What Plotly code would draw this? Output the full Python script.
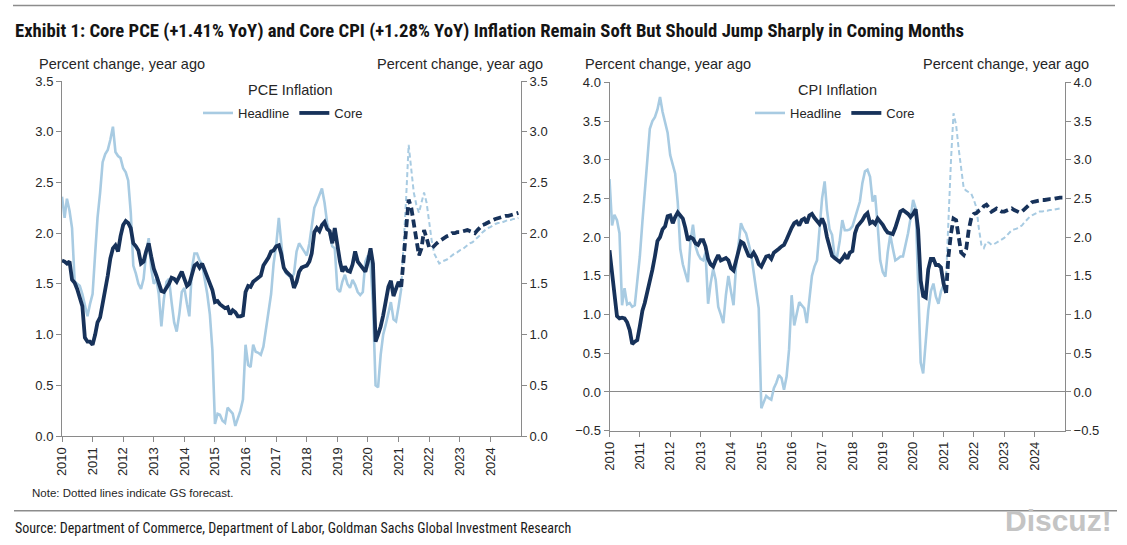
import plotly.graph_objects as go
import pandas as pd

W, H = 1127, 545


def fx(px):
    return px / W


def fy(py):
    return 1 - py / H


# ---------------- data (monthly, Jan 2010 .. Dec 2024) ----------------
START_MONTH = "2010-01-01"
N_MONTHS = 180
LAST_ACTUAL = 133  # Feb 2021; later months are GS forecast

pce_core = [
    1.73, 1.72, 1.70, 1.72, 1.54, 1.51, 1.45, 1.36, 1.28, 0.97, 0.93, 0.93,
    0.90, 1.00, 1.12, 1.17, 1.30, 1.45, 1.58, 1.75, 1.85, 1.88, 1.82, 1.97,
    2.08, 2.12, 2.10, 2.05, 1.90, 1.87, 1.83, 1.70, 1.72, 1.82, 1.90, 1.77,
    1.65, 1.58, 1.52, 1.43, 1.42, 1.46, 1.50, 1.56, 1.55, 1.52, 1.57, 1.62,
    1.55, 1.48, 1.50, 1.60, 1.68, 1.70, 1.66, 1.70, 1.63, 1.57, 1.50, 1.44,
    1.32, 1.33, 1.30, 1.28, 1.26, 1.27, 1.20, 1.24, 1.22, 1.18, 1.18, 1.19,
    1.42, 1.48, 1.47, 1.52, 1.54, 1.56, 1.58, 1.68, 1.72, 1.76, 1.82, 1.83,
    1.87, 1.88, 1.80, 1.66, 1.62, 1.60, 1.57, 1.46, 1.52, 1.62, 1.66, 1.67,
    1.68, 1.72, 1.80, 2.01, 2.05, 2.02, 2.08, 2.11, 2.04, 2.02, 1.90, 2.05,
    1.85, 1.72, 1.62, 1.67, 1.63, 1.62, 1.69, 1.82, 1.72, 1.69, 1.66, 1.62,
    1.72, 1.85, 1.70, 0.93, 1.00, 1.08, 1.19, 1.33, 1.47, 1.53, 1.38, 1.45,
    1.52, 1.47, 1.75, 2.10, 2.33, 2.25, 2.08, 1.90, 1.78, 1.85, 2.03, 1.95,
    1.86, 1.85, 1.88, 1.90, 1.92, 1.94, 1.96, 1.97, 1.98, 2.00, 2.00, 2.01,
    2.01, 2.02, 2.02, 2.03, 2.02, 2.01, 2.00, 2.03, 2.06, 2.08, 2.09, 2.10,
    2.11, 2.13, 2.14, 2.15, 2.16, 2.16, 2.17, 2.17, 2.18, 2.18, 2.19, 2.20,
]

pce_headline = [
    2.36, 2.15, 2.34, 2.22, 2.05, 1.52, 1.50, 1.48, 1.40, 1.28, 1.18, 1.30,
    1.40, 1.80, 2.15, 2.40, 2.70, 2.78, 2.82, 2.92, 3.05, 2.80, 2.76, 2.74,
    2.64, 2.60, 2.52, 2.20, 1.68, 1.60, 1.50, 1.45, 1.55, 1.80, 1.95, 1.65,
    1.50, 1.55, 1.40, 1.08, 1.35, 1.52, 1.55, 1.32, 1.12, 1.03, 1.20, 1.42,
    1.46, 1.30, 1.18, 1.65, 1.80, 1.80, 1.73, 1.69, 1.56, 1.40, 1.20, 0.85,
    0.12, 0.22, 0.21, 0.15, 0.13, 0.28, 0.25, 0.22, 0.10, 0.18, 0.25, 0.36,
    0.90, 0.70, 0.68, 0.90, 0.83, 0.82, 0.80, 0.88, 1.05, 1.25, 1.40, 1.70,
    1.88, 2.15, 1.90, 1.65, 1.60, 1.58, 1.55, 1.60, 1.82, 1.90, 1.86, 1.82,
    1.78, 1.90, 2.05, 2.25, 2.31, 2.38, 2.44, 2.30, 2.10, 2.00, 1.87, 1.85,
    1.45, 1.42, 1.52, 1.59, 1.50, 1.46, 1.54, 1.49, 1.42, 1.39, 1.42, 1.72,
    1.78, 1.70, 1.30, 0.50, 0.48, 0.80, 1.00, 1.10, 1.23, 1.32, 1.15, 1.13,
    1.28, 1.45, 1.85, 2.35, 2.87, 2.65, 2.40, 2.28, 2.20, 2.30, 2.40, 2.30,
    2.10, 1.92, 1.80, 1.75, 1.70, 1.72, 1.73, 1.74, 1.76, 1.78, 1.80, 1.81,
    1.83, 1.84, 1.86, 1.88, 1.90, 1.91, 1.93, 1.95, 1.98, 2.01, 2.03, 2.05,
    2.06, 2.08, 2.09, 2.10, 2.10, 2.11, 2.12, 2.13, 2.13, 2.14, 2.14, 2.15,
]

cpi_core = [
    1.83, 1.50, 1.20, 0.98, 0.95, 0.96, 0.95, 0.90, 0.80, 0.62, 0.65, 0.67,
    0.85, 1.05, 1.15, 1.28, 1.42, 1.58, 1.75, 1.95, 2.00, 2.10, 2.14, 2.27,
    2.28, 2.18, 2.26, 2.32, 2.28, 2.24, 2.12, 1.96, 2.00, 1.98, 1.92, 1.90,
    1.96, 1.96, 1.88, 1.72, 1.65, 1.62, 1.70, 1.77, 1.70, 1.72, 1.73, 1.70,
    1.60, 1.57, 1.70, 1.82, 1.94, 1.92, 1.85, 1.76, 1.75, 1.80, 1.74, 1.65,
    1.62, 1.68, 1.75, 1.76, 1.72, 1.80, 1.82, 1.85, 1.88, 1.90, 1.97, 2.06,
    2.12, 2.18, 2.20, 2.15, 2.22, 2.24, 2.18, 2.28, 2.30, 2.25, 2.20, 2.17,
    2.24, 2.16, 2.00, 1.88, 1.76, 1.73, 1.70, 1.68, 1.72, 1.77, 1.72, 1.80,
    1.82, 2.05, 2.14, 2.18, 2.22, 2.28, 2.31, 2.18, 2.20, 2.17, 2.24, 2.20,
    2.16, 2.10, 2.06, 2.05, 2.04, 2.12, 2.22, 2.33, 2.35, 2.33, 2.30, 2.26,
    2.30, 2.36, 2.10, 1.44, 1.24, 1.22, 1.58, 1.72, 1.72, 1.64, 1.64, 1.61,
    1.40, 1.28, 1.75, 2.05, 2.24, 2.22, 2.00, 1.80, 1.77, 1.85, 2.10, 2.25,
    2.30, 2.31, 2.34, 2.36, 2.40, 2.42, 2.38, 2.33, 2.35, 2.37, 2.35, 2.33,
    2.33, 2.34, 2.36, 2.37, 2.35, 2.33, 2.32, 2.33, 2.36, 2.39, 2.42, 2.45,
    2.46, 2.47, 2.47, 2.48, 2.48, 2.49, 2.49, 2.49, 2.50, 2.50, 2.51, 2.51,
]

cpi_headline = [
    2.75, 2.15, 2.29, 2.22, 2.05, 1.12, 1.34, 1.13, 1.15, 1.10, 1.12, 1.45,
    1.75, 2.20, 2.55, 3.00, 3.40, 3.50, 3.55, 3.65, 3.81, 3.62, 3.48, 3.35,
    3.06, 2.95, 2.82, 2.45, 1.85, 1.65, 1.55, 1.42, 1.95, 2.16, 1.88, 1.78,
    1.72, 1.70, 1.80, 1.14, 1.40, 1.59, 1.45, 1.10, 1.00, 0.89, 1.25, 1.50,
    1.30, 1.12, 1.60, 1.90, 2.18, 2.10, 2.05, 1.92, 1.78, 1.55, 1.30, 1.08,
    -0.21, -0.12, -0.05, -0.08, -0.10, 0.05, 0.12, 0.22, 0.18, 0.03, 0.20, 0.55,
    1.25, 0.86, 1.00, 1.16, 1.12, 1.08, 0.89, 1.20, 1.50, 1.62, 1.70, 2.10,
    2.50, 2.72, 2.35, 2.10, 2.03, 1.75, 1.75, 1.95, 2.22, 2.09, 2.09, 2.10,
    2.14, 2.25, 2.35, 2.46, 2.70, 2.85, 2.87, 2.78, 2.46, 2.54, 2.15, 1.70,
    1.55, 1.49, 1.80, 2.03, 1.86, 1.70, 1.72, 1.75, 1.75, 1.88, 2.05, 2.24,
    2.48, 2.37, 1.45, 0.38, 0.24, 0.60, 1.05, 1.30, 1.40, 1.23, 1.14, 1.30,
    1.38, 1.50, 2.30, 3.00, 3.60, 3.45, 3.15, 2.85, 2.63, 2.60, 2.58, 2.56,
    2.48, 2.38, 2.12, 1.90, 1.86, 1.94, 1.93, 1.90, 1.91, 1.93, 1.95, 1.96,
    1.99, 2.02, 2.05, 2.09, 2.10, 2.11, 2.13, 2.15, 2.19, 2.23, 2.26, 2.28,
    2.30, 2.32, 2.33, 2.33, 2.34, 2.34, 2.35, 2.35, 2.36, 2.36, 2.37, 2.37,
]

year_ticks = [str(y) for y in range(2010, 2025)]

TITLE = ("Exhibit 1: Core PCE (+1.41% YoY) and Core CPI (+1.28% YoY) Inflation "
         "Remain Soft But Should Jump Sharply in Coming Months")
NOTE = "Note: Dotted lines indicate GS forecast."
SOURCE = ("Source: Department of Commerce, Department of Labor, "
          "Goldman Sachs Global Investment Research")
Y_TITLE = "Percent change, year ago"

# ---------------- styling ----------------
HEAD_C = "#a8cbe2"
CORE_C = "#17325a"
AXIS_C = "#8a8a8a"
TEXT_C = "#262626"
FONT = "Liberation Sans, Arial, sans-serif"
NARROW = "Liberation Sans Narrow, Arial Narrow, Roboto Condensed, sans-serif"

months = pd.date_range(START_MONTH, periods=N_MONTHS, freq="MS")
act = slice(0, LAST_ACTUAL + 1)
fc = slice(LAST_ACTUAL, N_MONTHS)

fig = go.Figure()


def add_pair(head, core, xa, ya_head, ya_core, legend):
    fig.add_trace(go.Scatter(x=months[act], y=head[act], mode="lines", name="Headline",
                             line=dict(color=HEAD_C, width=2.6), xaxis=xa, yaxis=ya_head,
                             legend=legend, showlegend=True))
    fig.add_trace(go.Scatter(x=months[fc], y=head[fc], mode="lines", name="Headline forecast",
                             line=dict(color=HEAD_C, width=2, dash="5px,3px"), xaxis=xa,
                             yaxis=ya_head, showlegend=False))
    fig.add_trace(go.Scatter(x=months[act], y=core[act], mode="lines", name="Core",
                             line=dict(color=CORE_C, width=3.8), xaxis=xa, yaxis=ya_core,
                             legend=legend, showlegend=True))
    fig.add_trace(go.Scatter(x=months[fc], y=core[fc], mode="lines", name="Core forecast",
                             line=dict(color=CORE_C, width=3.8, dash="8px,4px"), xaxis=xa,
                             yaxis=ya_core, showlegend=False))


add_pair(pce_headline, pce_core, "x", "y", "y2", "legend")
add_pair(cpi_headline, cpi_core, "x2", "y3", "y4", "legend2")

tickvals = [f"{y}-01-01" for y in year_ticks]
xcommon = dict(type="date", range=["2010-01-01", "2025-01-01"], tickvals=tickvals,
               ticktext=year_ticks, tickangle=-90, ticks="outside", ticklen=5,
               tickcolor=AXIS_C, showline=True, linecolor=AXIS_C, linewidth=1,
               showgrid=False, zeroline=False, automargin=False,
               tickfont=dict(family=FONT, size=13, color=TEXT_C), fixedrange=True)
ycommon = dict(dtick=0.5, tickformat=".1f", ticks="outside", ticklen=5, tickcolor=AXIS_C,
               showline=True, linecolor=AXIS_C, linewidth=1, showgrid=False,
               automargin=False,
               tickfont=dict(family=FONT, size=13, color=TEXT_C), fixedrange=True)

L_DOM_X = [fx(62), fx(521)]
L_DOM_Y = [fy(436), fy(81)]
R_DOM_X = [fx(609.5), fx(1065)]
R_DOM_Y = [fy(430.7), fy(82.3)]

fig.update_layout(
    width=W, height=H,
    margin=dict(l=0, r=0, t=0, b=0, pad=0, autoexpand=False),
    paper_bgcolor="white", plot_bgcolor="white",
    font=dict(family=FONT, color=TEXT_C),
    xaxis=dict(domain=L_DOM_X, anchor="y", **xcommon),
    yaxis=dict(domain=L_DOM_Y, anchor="x", range=[0, 3.5], zeroline=False, **ycommon),
    yaxis2=dict(overlaying="y", side="right", anchor="x", range=[0, 3.5], zeroline=False,
                **ycommon),
    xaxis2=dict(domain=R_DOM_X, anchor="y3", **xcommon),
    yaxis3=dict(domain=R_DOM_Y, anchor="x2", range=[-0.5, 4.0], zeroline=True,
                zerolinecolor=AXIS_C, zerolinewidth=1, **ycommon),
    yaxis4=dict(overlaying="y3", side="right", anchor="x2", range=[-0.5, 4.0],
                zeroline=False, **ycommon),
    legend=dict(orientation="h", x=fx(283), y=fy(113), xanchor="center", yanchor="middle",
                font=dict(family=FONT, size=13, color=TEXT_C), bgcolor="rgba(0,0,0,0)",
                itemwidth=30, tracegroupgap=0),
    legend2=dict(orientation="h", x=fx(835), y=fy(113), xanchor="center", yanchor="middle",
                 font=dict(family=FONT, size=13, color=TEXT_C), bgcolor="rgba(0,0,0,0)",
                 itemwidth=30, tracegroupgap=0),
    showlegend=True,
)

ann = []


def text(x, y, s, size, family=FONT, xanchor="center", color=TEXT_C):
    ann.append(dict(x=fx(x), y=fy(y), xref="paper", yref="paper", text=s, showarrow=False,
                    xanchor=xanchor, yanchor="middle", borderpad=0,
                    font=dict(family=family, size=size, color=color)))


text(14, 31, f"<b>{TITLE}</b>", 18.7, family=NARROW, xanchor="left", color="#141414")
text(122, 64, Y_TITLE, 14.5)
text(460, 64, Y_TITLE, 14.5)
text(668, 64, Y_TITLE, 14.5)
text(1006, 64, Y_TITLE, 14.5)
text(290, 90, "PCE Inflation", 14.5)
text(837, 90, "CPI Inflation", 14.5)
text(31, 493, NOTE, 11.5, xanchor="left")
text(14, 528, SOURCE, 14, family=NARROW, xanchor="left", color="#1a1a1a")
text(1058, 520, "<b>Discuz!</b>", 30, family=FONT, color="#c4c4c4")
fig.update_layout(annotations=ann)

fig.add_shape(type="line", xref="paper", yref="paper", x0=fx(13), x1=fx(1115),
              y0=fy(5.5), y1=fy(5.5), line=dict(color="#8c8c8c", width=1.5))
fig.add_shape(type="line", xref="paper", yref="paper", x0=fx(14), x1=fx(1117),
              y0=fy(510.7), y1=fy(510.7), line=dict(color="#8c8c8c", width=1.5))

# remove the default page margin so the figure sits at the window origin
PAGE_FIX = ("document.body.style.margin='0px';"
            "document.body.style.padding='0px';"
            "document.body.style.overflow='hidden';")

fig.write_html("out.html", post_script=PAGE_FIX, config={"displayModeBar": False})
